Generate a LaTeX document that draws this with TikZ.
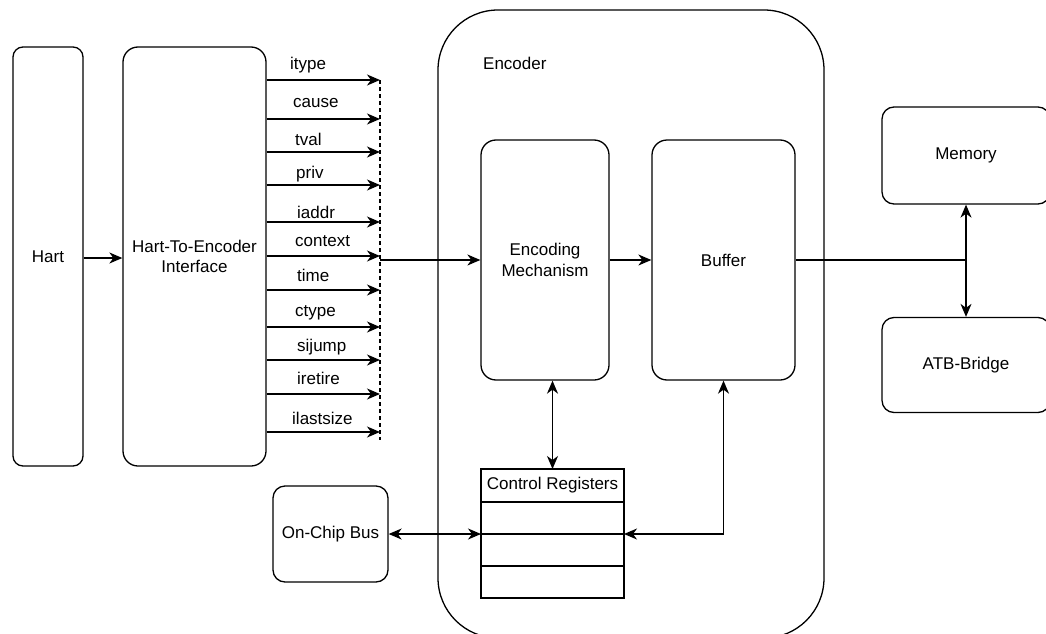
\documentclass[tikz,border=0pt]{standalone}
\usepackage{fontspec}
\setmainfont{Liberation Sans}
\usetikzlibrary{positioning,arrows.meta}

\begin{document}
\begin{tikzpicture}[x=1pt, y=-1pt, font=\fontsize{17}{20.5}\selectfont,
    block/.style={draw, line width=1.3pt, rounded corners=15pt, align=center, inner sep=0pt},
    regrow/.style={draw, line width=1.3pt, minimum width=143pt, minimum height=32pt, outer sep=0pt, inner sep=0pt},
    sig/.style={line width=1.3pt, -{Stealth[length=13pt, width=11pt, inset=4pt]}},
    both/.style={line width=1.3pt, {Stealth[length=13pt, width=11pt, inset=4pt]}-{Stealth[length=13pt, width=11pt, inset=4pt]}},
    siglabel/.style={anchor=west, inner sep=0pt}]
    \useasboundingbox (0,0) rectangle (1046,634);
    \node [block, rounded corners=10pt, minimum width=70pt, minimum height=419pt] (hart) at (48,256.5) {Hart};
    \node [block, minimum width=143pt, minimum height=419pt] (interface) at (194.5,256.5) {Hart-To-Encoder\\Interface};
    \node [block, rounded corners=60pt, minimum width=386pt, minimum height=628pt] (encoder) at (631,324) {};
    \node [anchor=west, inner sep=0pt] (encoderlabel) at (483,63) {Encoder};
    \node [block, minimum width=128pt, minimum height=240pt] (encoding) at (545,260) {Encoding\\Mechanism};
    \node [block, minimum width=143pt, minimum height=240pt] (buffer) at (723.5,260) {Buffer};
    \node [block, rounded corners=12pt, minimum width=168pt, minimum height=97pt] (memory) at (966,155.5) {Memory};
    \node [block, rounded corners=12pt, minimum width=168pt, minimum height=95pt] (atb) at (966,365) {ATB-Bridge};
    \node [block, rounded corners=12pt, minimum width=115pt, minimum height=96pt] (bus) at (330.5,534) {On-Chip Bus};
    \node [regrow, minimum height=33pt] (regtitle) at (552.5,485.5) {Control Registers};
    \node [regrow, below=0pt of regtitle] (reg1) {};
    \node [regrow, below=0pt of reg1] (reg2) {};
    \node [regrow, below=0pt of reg2] (reg3) {};

    \coordinate (s1) at (380,80);
    \coordinate (s2) at (380,119);
    \coordinate (s3) at (380,152);
    \coordinate (s4) at (380,185);
    \coordinate (s5) at (380,222);
    \coordinate (s6) at (380,256);
    \coordinate (s7) at (380,290);
    \coordinate (s8) at (380,327);
    \coordinate (s9) at (380,360);
    \coordinate (s10) at (380,394);
    \coordinate (s11) at (380,432);
    \coordinate (dashend) at (380,440);
    \coordinate (merge) at (380,260);
    \coordinate (junction) at (966,260);

    \draw [sig] (interface.east |- s1) -- (s1);
    \draw [sig] (interface.east |- s2) -- (s2);
    \draw [sig] (interface.east |- s3) -- (s3);
    \draw [sig] (interface.east |- s4) -- (s4);
    \draw [sig] (interface.east |- s5) -- (s5);
    \draw [sig] (interface.east |- s6) -- (s6);
    \draw [sig] (interface.east |- s7) -- (s7);
    \draw [sig] (interface.east |- s8) -- (s8);
    \draw [sig] (interface.east |- s9) -- (s9);
    \draw [sig] (interface.east |- s10) -- (s10);
    \draw [sig] (interface.east |- s11) -- (s11);
    \node [siglabel] (itype) at (290,65) {itype};
    \node [siglabel] (cause) at (293,103) {cause};
    \node [siglabel] (tval) at (295,139) {tval};
    \node [siglabel] (priv) at (296,174) {priv};
    \node [siglabel] (iaddr) at (297,212) {iaddr};
    \node [siglabel] (context) at (295,241) {context};
    \node [siglabel] (time) at (297,275) {time};
    \node [siglabel] (ctype) at (295,313) {ctype};
    \node [siglabel] (sijump) at (297,347) {sijump};
    \node [siglabel] (iretire) at (297,378) {iretire};
    \node [siglabel] (ilastsize) at (292,418) {ilastsize};
    \draw [line width=1.1pt, dash pattern=on 4pt off 3pt] (s1) -- (dashend);

    \draw [sig] (hart.east |- 0,258) -- (interface.west |- 0,258);
    \draw [sig] (merge) -- (encoding.west);
    \draw [sig] (encoding.east) -- (buffer.west);
    \draw [line width=1.3pt] (buffer.east) -- (junction);
    \draw [both] (memory.south) -- (atb.north);
    \draw [both] (regtitle.north |- encoding.south) -- (regtitle.north);
    \draw [both] (bus.east) -- (reg2.north west);
    \draw [both] (reg2.north east) -| (buffer.south);
\end{tikzpicture}
\end{document}
